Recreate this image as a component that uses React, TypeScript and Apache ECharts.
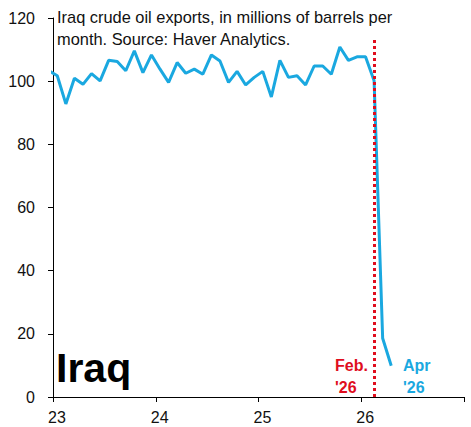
import React, { useEffect, useRef } from "react";
import * as echarts from "echarts";

// Monthly observations (Dec 2022 point is clipped at the axis start)
const months: string[] = [
  "2022-12",
  "2023-01", "2023-02", "2023-03", "2023-04", "2023-05", "2023-06",
  "2023-07", "2023-08", "2023-09", "2023-10", "2023-11", "2023-12",
  "2024-01", "2024-02", "2024-03", "2024-04", "2024-05", "2024-06",
  "2024-07", "2024-08", "2024-09", "2024-10", "2024-11", "2024-12",
  "2025-01", "2025-02", "2025-03", "2025-04", "2025-05", "2025-06",
  "2025-07", "2025-08", "2025-09", "2025-10", "2025-11", "2025-12",
  "2026-01", "2026-02", "2026-03", "2026-04",
];
const exportsMb: number[] = [
  103.3,
  101.7, 92.8, 100.9, 99.0, 102.4, 100.1,
  106.6, 106.2, 103.3, 109.6, 102.7, 108.3,
  103.8, 99.6, 105.9, 102.5, 103.8, 102.2,
  108.3, 106.4, 99.6, 103.1, 98.8, 101.2,
  103.1, 95.0, 106.6, 101.2, 101.7, 98.8,
  104.8, 104.8, 102.2, 110.8, 106.6, 107.7,
  107.7, 100.1, 18.6, 9.9,
];
const eventMonth = "2026-02";
const xTickMin = 23;
const xTickMax = 27;
const yMax = 120;
const yInterval = 20;

const toYearPos = (m: string): number => {
  const y = parseInt(m.slice(0, 4), 10) - 2000;
  const mo = parseInt(m.slice(5, 7), 10) - 1;
  return y + (mo + 0.5) / 12;
};

const BLUE = "#1aa8e0";
const RED = "#e00d1d";
const FONT = "'Liberation Sans', Arial, sans-serif";

export default function App() {
  const ref = useRef<HTMLDivElement>(null);
  useEffect(() => {
    if (!ref.current) return;
    const chart = echarts.init(ref.current, undefined, { renderer: "svg" });
    const data = months.map((m, i) => [toYearPos(m), exportsMb[i]]);
    const ex = toYearPos(eventMonth);
    chart.setOption({
      animation: false,
      backgroundColor: "#ffffff",
      grid: { left: 53, right: 7, top: 18, bottom: 30 },
      xAxis: {
        type: "value",
        min: xTickMin,
        max: xTickMax,
        interval: 1,
        axisLine: { show: true, lineStyle: { color: "#000", width: 1 } },
        axisTick: { show: true, length: 5, lineStyle: { color: "#000" } },
        splitLine: { show: false },
        axisLabel: {
          margin: 12,
          fontSize: 16,
          fontFamily: FONT,
          color: "#111",
          padding: [0, 0, 0, 8],
          formatter: (v: number) => (v < xTickMax ? String(v) : ""),
        },
      },
      yAxis: {
        type: "value",
        min: 0,
        max: yMax,
        interval: yInterval,
        axisLine: { show: true, lineStyle: { color: "#000", width: 1 } },
        axisTick: { show: true, length: 5, lineStyle: { color: "#000" } },
        splitLine: { show: false },
        axisLabel: { margin: 18, fontSize: 16, fontFamily: FONT, color: "#111" },
      },
      series: [
        {
          type: "line",
          data,
          symbol: "none",
          clip: true,
          lineStyle: { color: BLUE, width: 3 },
          markLine: {
            silent: true,
            symbol: "none",
            label: { show: false },
            lineStyle: { color: RED, width: 3, type: [3, 3] },
            data: [[{ coord: [ex, 0] }, { coord: [ex, 113.5] }]],
          },
        },
      ],
      graphic: [
        {
          type: "text",
          left: 57,
          top: 6,
          style: {
            text: "Iraq crude oil exports, in millions of barrels per\nmonth. Source: Haver Analytics.",
            font: `16.4px ${FONT}`,
            lineHeight: 22,
            fill: "#111",
          },
        },
        {
          type: "text",
          left: 56,
          top: 347,
          style: { text: "Iraq", font: `bold 41px ${FONT}`, fill: "#000" },
        },
        {
          type: "text",
          left: 335,
          top: 354,
          style: { text: "Feb.\n'26", font: `bold 16px ${FONT}`, lineHeight: 22, fill: RED },
        },
        {
          type: "text",
          left: 403,
          top: 354,
          style: { text: "Apr\n'26", font: `bold 16px ${FONT}`, lineHeight: 22, fill: BLUE },
        },
      ],
    });
    return () => chart.dispose();
  }, []);
  return (
    <div
      ref={ref}
      style={{ position: "fixed", left: 0, top: 0, width: 471, height: 427 }}
    />
  );
}
